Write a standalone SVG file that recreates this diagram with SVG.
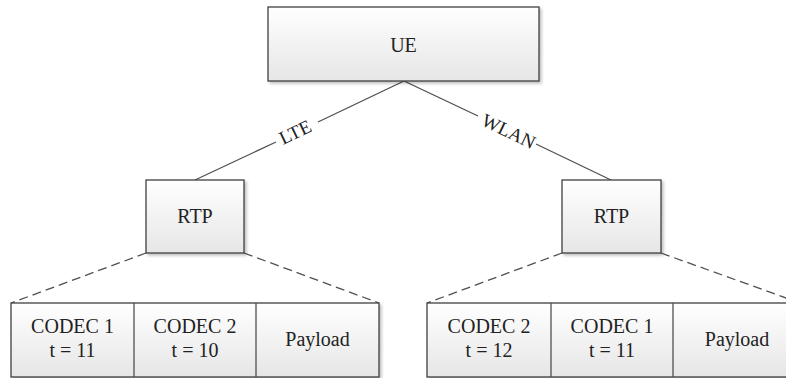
<svg xmlns="http://www.w3.org/2000/svg" width="786" height="378" viewBox="0 0 786 378">
<defs>
<linearGradient id="g" x1="0" y1="0" x2="0" y2="1">
<stop offset="0" stop-color="#ffffff"/>
<stop offset="1" stop-color="#e6e6e6"/>
</linearGradient>
<filter id="sh" x="-10%" y="-10%" width="130%" height="130%">
<feGaussianBlur in="SourceAlpha" stdDeviation="1.5"/>
<feOffset dx="2" dy="2" result="b"/>
<feComponentTransfer><feFuncA type="linear" slope="0.25"/></feComponentTransfer>
<feMerge><feMergeNode/><feMergeNode in="SourceGraphic"/></feMerge>
</filter>
</defs>
<style>
.box{fill:url(#g);stroke:#404040;stroke-width:1.3;filter:url(#sh)}
.t{font-family:"Liberation Serif","Times New Roman",serif;font-size:20px;fill:#222;text-anchor:middle}
.lbl{font-family:"Liberation Serif","Times New Roman",serif;font-size:19px;fill:#222;text-anchor:middle}
.ln{stroke:#505050;stroke-width:1.3;fill:none}
.ds{stroke:#505050;stroke-width:1.3;fill:none;stroke-dasharray:9 5}
</style>
<rect width="786" height="378" fill="#fff"/>
<g id="connectors">
<line class="ln" x1="404" y1="81" x2="318" y2="122"/>
<line class="ln" x1="276" y1="142" x2="195" y2="180"/>
<line class="ln" x1="404" y1="81" x2="478" y2="116"/>
<line class="ln" x1="536" y1="144" x2="611" y2="180"/>
<line class="ds" x1="146" y1="253" x2="11" y2="303"/>
<line class="ds" x1="244" y1="253" x2="379" y2="303"/>
<line class="ds" x1="562" y1="253" x2="427" y2="303"/>
<line class="ds" x1="661" y1="253" x2="800" y2="303"/>
<text class="lbl" transform="translate(298,138) rotate(-25.5)">LTE</text>
<text class="lbl" transform="translate(506,137) rotate(25.6)">WLAN</text>
</g>
<g id="ue">
<rect class="box" x="268" y="7" width="271" height="74"/>
<text class="t" x="403.5" y="52">UE</text>
</g>
<g id="rtp-left">
<rect class="box" x="146" y="180" width="98" height="73"/>
<text class="t" x="195" y="223">RTP</text>
</g>
<g id="rtp-right">
<rect class="box" x="562" y="180" width="99" height="73"/>
<text class="t" x="611.5" y="223">RTP</text>
</g>
<g id="packet-left">
<rect class="box" x="11" y="303" width="368" height="74"/>
<line class="ln" x1="134" y1="303" x2="134" y2="377"/>
<line class="ln" x1="256" y1="303" x2="256" y2="377"/>
<text class="t" x="72.5" y="333">CODEC 1</text>
<text class="t" x="72.5" y="357">t = 11</text>
<text class="t" x="195" y="333">CODEC 2</text>
<text class="t" x="195" y="357">t = 10</text>
<text class="t" x="317.5" y="346">Payload</text>
</g>
<g id="packet-right">
<rect class="box" x="427" y="303" width="373" height="74"/>
<line class="ln" x1="551" y1="303" x2="551" y2="377"/>
<line class="ln" x1="673" y1="303" x2="673" y2="377"/>
<text class="t" x="489" y="333">CODEC 2</text>
<text class="t" x="489" y="357">t = 12</text>
<text class="t" x="612" y="333">CODEC 1</text>
<text class="t" x="612" y="357">t = 11</text>
<text class="t" x="737" y="346">Payload</text>
</g>
</svg>
